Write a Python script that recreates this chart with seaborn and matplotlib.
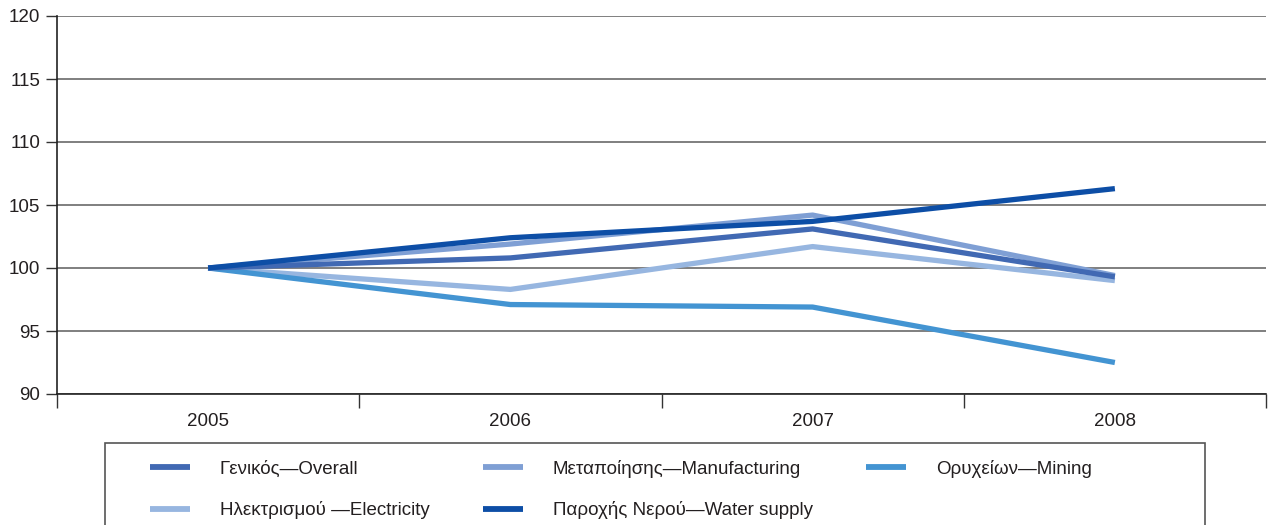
import matplotlib
matplotlib.use("Agg")
import matplotlib.pyplot as plt
from matplotlib.lines import Line2D
from matplotlib.patches import Rectangle
import seaborn as sns
import pandas as pd

years = ["2005", "2006", "2007", "2008"]
overall = [100, 100.8, 103.1, 99.3]
manufacturing = [100, 101.9, 104.2, 99.4]
mining = [100, 97.1, 96.9, 92.5]
electricity = [100, 98.3, 101.7, 99.0]
water = [100, 102.4, 103.7, 106.3]

labels = ["Γενικός—Overall", "Μεταποίησης—Manufacturing", "Ορυχείων—Mining",
          "Ηλεκτρισμού —Electricity", "Παροχής Νερού—Water supply"]
series = [overall, manufacturing, mining, electricity, water]
colors = ["#4169B3", "#7F9FD4", "#4394D2", "#97B6E0", "#0D4EA6"]

rows = []
for lab, vals in zip(labels, series):
    for i, (y, v) in enumerate(zip(years, vals)):
        rows.append({"idx": i, "year": y, "value": v, "series": lab})
df = pd.DataFrame(rows)

sns.set_theme(style="white")
plt.rcParams['font.family'] = ['Liberation Sans', 'DejaVu Sans']

W, H = 1268, 525
fig = plt.figure(figsize=(W/100, H/100), dpi=100)
ax = fig.add_axes([57/W, 1-394/H, (1266-57)/W, (394-16)/H])

order = ["Ηλεκτρισμού —Electricity", "Ορυχείων—Mining", "Μεταποίησης—Manufacturing",
         "Γενικός—Overall", "Παροχής Νερού—Water supply"]
pal = dict(zip(labels, colors))
for lab in order:
    sub = df[df.series == lab]
    sns.lineplot(data=sub, x="idx", y="value", color=pal[lab], lw=3.8, ax=ax,
                 legend=False, solid_capstyle="butt")

ax.set_xlim(-0.5, 3.5)
ax.set_ylim(90, 120)
ax.set_yticks(range(90, 121, 5))
ax.yaxis.grid(True, color="#6a6a6a", lw=1.2)
ax.set_axisbelow(True)
ax.set_xticks([i + 0.5 for i in range(-1, 4)])
ax.set_xticklabels([])
ax.set_xticks(range(4), minor=True)
ax.set_xticklabels(years, minor=True)
ax.tick_params(axis="x", which="major", direction="out", length=10, width=1.0, color="#333333", bottom=True)
ax.tick_params(axis="x", which="minor", length=0, pad=14, labelsize=13.5, labelcolor="#231f20")
ax.tick_params(axis="y", direction="out", length=8, width=1.0, color="#333333", left=True,
               labelsize=13.5, labelcolor="#231f20", pad=4)
for s in ["top", "right"]:
    ax.spines[s].set_visible(False)
for s in ["left", "bottom"]:
    ax.spines[s].set_color("#222222")
    ax.spines[s].set_linewidth(1.2)
ax.set_xlabel("")
ax.set_ylabel("")

# legend frame
fig.patches.append(Rectangle((105/W, -0.05), (1205-105)/W, 0.05 + (H-443)/H,
                             transform=fig.transFigure, fill=False,
                             edgecolor="#555555", lw=1.2))

# legend in row-major order
leg_order = [0, 3, 1, 4, 2]
handles = [Line2D([], [], color=colors[i], lw=4.2, solid_capstyle="butt") for i in leg_order]
leg_labels = [labels[i] for i in leg_order]
leg = fig.legend(handles, leg_labels, ncol=3, loc="upper left",
                 bbox_to_anchor=(150/W, 1-460/H), frameon=False,
                 fontsize=13.5, handlelength=2.13, handletextpad=1.6, borderpad=0,
                 labelspacing=1.25, borderaxespad=0, columnspacing=2.83)
for t in leg.get_texts():
    t.set_color("#231f20")

fig.savefig("out.png", dpi=100)
